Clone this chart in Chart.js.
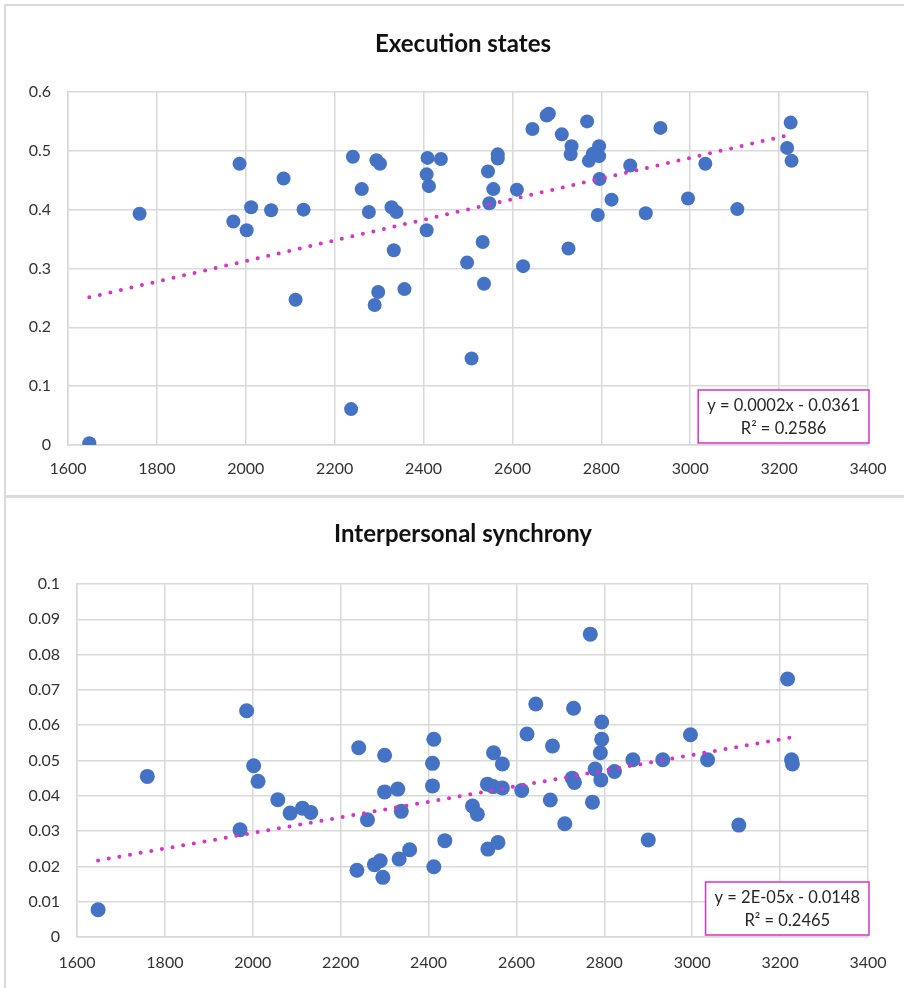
<!DOCTYPE html>
<html>
<head>
<meta charset="utf-8">
<script src="https://cdn.jsdelivr.net/npm/chart.js@4"></script>
<style>
  html, body { margin: 0; background: #fff; overflow: hidden; width: 904px; height: 988px; }
  .marco { position: absolute; left: 4px; width: 1000px; border: 2px solid #dadada; box-sizing: border-box; }
  canvas { position: absolute; left: 0; }
</style>
</head>
<body>
<div class="marco" style="top:4px;height:493px"></div>
<div class="marco" style="top:496px;height:600px"></div>
<canvas id="ejecucion" width="926" height="493" style="top:0"></canvas>
<canvas id="sincronia" width="926" height="491" style="top:497px"></canvas>
<script>
// Estados de ejecución (eje x compartido de 1600 a 3400)
const ejecX = [1648, 1761, 1972, 1986, 2002, 2012, 2057, 2085, 2112, 2130, 2237, 2241, 2261, 2277, 2290, 2294,
  2298, 2302, 2328, 2333, 2339, 2357, 2407, 2407, 2409, 2412, 2439, 2498, 2508, 2533, 2536, 2545, 2548, 2557,
  2567, 2567, 2610, 2624, 2645, 2677, 2682, 2711, 2726, 2731, 2733, 2768, 2772, 2781, 2792, 2795, 2795, 2796,
  2823, 2865, 2900, 2933, 2995, 3034, 3106, 3218, 3226, 3228];
const ejecY = [0.003, 0.393, 0.380, 0.478, 0.365, 0.404, 0.399, 0.453, 0.247, 0.400, 0.061, 0.490, 0.435, 0.396, 0.238, 0.484,
  0.260, 0.478, 0.404, 0.331, 0.396, 0.265, 0.460, 0.365, 0.488, 0.440, 0.486, 0.310, 0.147, 0.345, 0.274, 0.465, 0.411, 0.435,
  0.494, 0.487, 0.434, 0.304, 0.537, 0.560, 0.563, 0.528, 0.334, 0.494, 0.508, 0.550, 0.483, 0.495, 0.391, 0.491, 0.508, 0.452,
  0.417, 0.475, 0.394, 0.539, 0.419, 0.478, 0.401, 0.505, 0.548, 0.483];

// Sincronía interpersonal
const sincX = [1648, 1760, 1971, 1986, 2002, 2012, 2057, 2085, 2113, 2132, 2237, 2241, 2261, 2277, 2290, 2296,
  2300, 2300, 2330, 2333, 2338, 2357, 2409, 2409, 2412, 2412, 2437, 2500, 2511, 2534, 2535, 2547, 2548, 2558,
  2568, 2568, 2612, 2624, 2644, 2677, 2682, 2710, 2727, 2730, 2732, 2768, 2773, 2779, 2791, 2792, 2794, 2794,
  2823, 2865, 2900, 2933, 2996, 3035, 3106, 3217, 3226, 3228];
const sincY = [0.0077, 0.0455, 0.0304, 0.0641, 0.0485, 0.0441, 0.0389, 0.0351, 0.0365, 0.0353, 0.0189, 0.0536, 0.0332, 0.0205, 0.0216, 0.0169,
  0.0515, 0.0411, 0.0419, 0.0221, 0.0356, 0.0247, 0.0492, 0.0428, 0.0560, 0.0199, 0.0273, 0.0371, 0.0348, 0.0433, 0.0249, 0.0426, 0.0522, 0.0268,
  0.0422, 0.0490, 0.0415, 0.0575, 0.0660, 0.0388, 0.0541, 0.0321, 0.0450, 0.0648, 0.0438, 0.0858, 0.0382, 0.0476, 0.0522, 0.0445, 0.0609, 0.0560,
  0.0469, 0.0502, 0.0275, 0.0502, 0.0573, 0.0502, 0.0317, 0.0731, 0.0502, 0.0490];

// Líneas de tendencia (extremos) y sus etiquetas
const tendEjecX = [1648, 3228];
const tendEjecY = [0.251, 0.528];
const tendSincX = [1648, 3228];
const tendSincY = [0.0217, 0.0566];
const ecuEjec = ['y = 0.0002x - 0.0361', 'R² = 0.2586'];
const ecuSinc = ['y = 2E-05x - 0.0148', 'R² = 0.2465'];

const AZUL = '#4472C4';
const MAGENTA = '#DD30C6';
const REJILLA = '#d9d9d9';
const FUENTE = 'Lato, "Open Sans", sans-serif';

const puntos = (xs, ys) => xs.map((x, i) => ({ x, y: ys[i] }));

// Recuadro con la ecuación, abajo a la derecha del área de trazado
const cajaEcuacion = {
  id: 'cajaEcuacion',
  afterDatasetsDraw(chart, args, opts) {
    const { ctx, chartArea: a } = chart;
    ctx.save();
    ctx.font = '16.5px ' + FUENTE;
    const ancho = Math.max(...opts.lineas.map(l => ctx.measureText(l).width)) + 18;
    const alto = 53;
    const x = a.right - ancho + 1, y = a.bottom - alto - 2;
    ctx.fillStyle = '#fff';
    ctx.fillRect(x, y, ancho, alto);
    ctx.strokeStyle = MAGENTA;
    ctx.lineWidth = 1.5;
    ctx.strokeRect(x, y, ancho, alto);
    ctx.fillStyle = '#262626';
    ctx.textAlign = 'center';
    ctx.textBaseline = 'middle';
    opts.lineas.forEach((l, i) => ctx.fillText(l, x + ancho / 2, y + 16 + i * 23));
    ctx.restore();
  }
};

function grafica(id, o) {
  new Chart(document.getElementById(id), {
    type: 'scatter',
    data: {
      datasets: [
        { data: puntos(o.tx, o.ty), showLine: true, borderColor: MAGENTA, borderWidth: 4,
          borderDash: [0, 10.8], borderCapStyle: 'round', pointRadius: 0, order: 0 },
        { data: puntos(o.xs, o.ys), backgroundColor: AZUL, pointRadius: o.radio,
          pointBorderWidth: 0, order: 1 },
      ],
    },
    options: {
      responsive: false,
      animation: false,
      layout: { padding: 0 },
      plugins: {
        legend: { display: false },
        tooltip: { enabled: false },
        title: { display: true, text: o.titulo, color: '#111',
          font: { family: FUENTE, size: 24, weight: 'bold', lineHeight: 1.1 },
          padding: o.padTitulo },
        cajaEcuacion: { lineas: o.lineas },
      },
      scales: {
        x: {
          type: 'linear', min: 1600, max: 3400,
          ticks: { stepSize: 200, color: '#333', padding: o.padX, font: { family: FUENTE, size: 16 },
            callback: v => String(v) },
          grid: { color: REJILLA, lineWidth: 1.5, drawTicks: false },
          border: { color: REJILLA, width: 1.5 },
          afterFit: s => { s.height = o.altoX; },
        },
        y: {
          min: 0, max: o.yMax,
          ticks: { stepSize: o.yPaso, color: '#333', padding: 17, font: { family: FUENTE, size: 16 },
            callback: v => String(Number(v.toFixed(3))) },
          grid: { color: REJILLA, lineWidth: 1.5, drawTicks: false },
          border: { color: REJILLA, width: 1.5 },
          afterFit: s => { s.width = o.anchoY; },
        },
        // margen derecho para que el título quede centrado en el marco
        margen: {
          type: 'linear', position: 'right', display: true,
          ticks: { display: false }, grid: { display: false }, border: { display: false },
          afterFit: s => { s.width = 58; },
        },
      },
    },
    plugins: [cajaEcuacion],
  });
}

grafica('ejecucion', {
  titulo: 'Execution states', xs: ejecX, ys: ejecY, tx: tendEjecX, ty: tendEjecY,
  yMax: 0.6, yPaso: 0.1, radio: 7, lineas: ecuEjec,
  anchoY: 68, altoX: 48, padX: 14, padTitulo: { top: 31, bottom: 34.6 },
});

grafica('sincronia', {
  titulo: 'Interpersonal synchrony', xs: sincX, ys: sincY, tx: tendSincX, ty: tendSincY,
  yMax: 0.1, yPaso: 0.01, radio: 7.5, lineas: ecuSinc,
  anchoY: 77, altoX: 51, padX: 16, padTitulo: { top: 24, bottom: 36.6 },
});
</script>
</body>
</html>
